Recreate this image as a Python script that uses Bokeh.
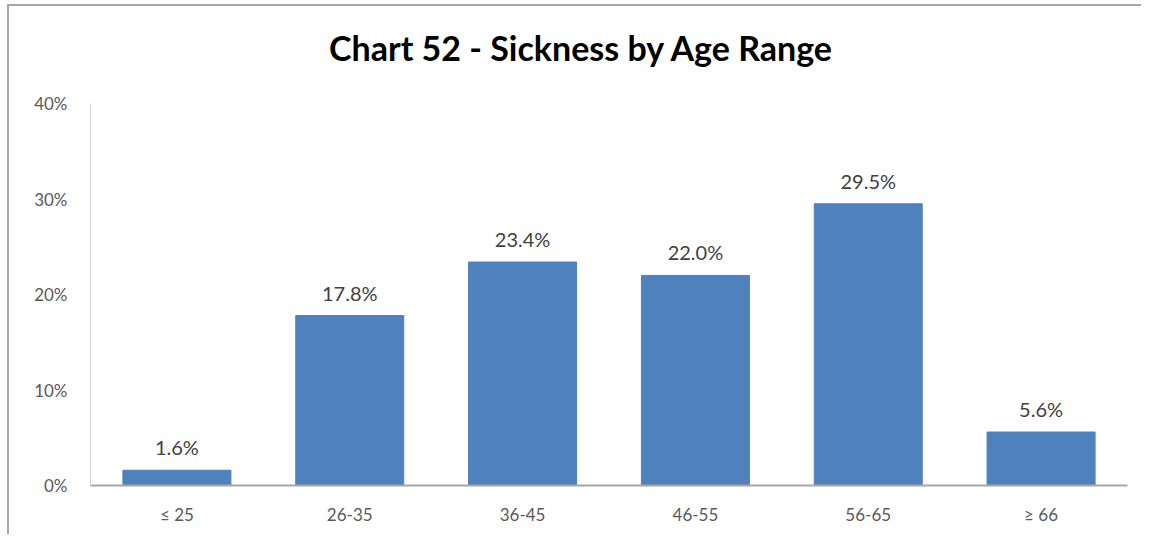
from bokeh.plotting import figure
from bokeh.models import ColumnDataSource, Label, NumeralTickFormatter, FixedTicker
from bokeh.core.properties import value
from bokeh.embed import file_html
from bokeh.resources import INLINE

categories = ["≤ 25", "26-35", "36-45", "46-55", "56-65", "≥ 66"]
values = [1.6, 17.8, 23.4, 22.0, 29.5, 5.6]
labels = ["1.6%", "17.8%", "23.4%", "22.0%", "29.5%", "5.6%"]
title_text = "Chart 52 - Sickness by Age Range"

FONT = "Lato"
src = ColumnDataSource(dict(cat=categories, val=[v / 100 for v in values], lab=labels))

p = figure(x_range=categories, y_range=(0, 0.4974), width=1134, height=530,
           output_backend="svg", toolbar_location=None,
           min_border_left=81, min_border_right=16, min_border_top=4, min_border_bottom=51)
p.styles = {"border-top": "2px solid #a6a6a6", "border-left": "2px solid #a6a6a6",
            "margin-top": "4px", "margin-left": "7px"}
p.vbar(x="cat", top="val", width=0.625, source=src, color="#4f81bd")
p.text(x="cat", y="val", text="lab", source=src, y_offset=-23, text_align="center",
       text_baseline="middle", text_font=value(FONT), text_font_size="20px", text_color="#404040")

p.xgrid.visible = False
p.ygrid.visible = False
p.outline_line_color = None
p.x_range.range_padding = 0
p.yaxis.ticker = FixedTicker(ticks=[0, 0.1, 0.2, 0.3, 0.4])
p.yaxis.bounds = (0, 0.4)
p.yaxis.formatter = NumeralTickFormatter(format="0%")
for ax in (p.xaxis[0], p.yaxis[0]):
    ax.major_tick_line_color = None
    ax.minor_tick_line_color = None
    ax.axis_line_color = "#a6a6a6"
    ax.axis_line_width = 1
    ax.major_label_text_font = FONT
    ax.major_label_text_font_size = "17px"
    ax.major_label_text_color = "#595959"
p.yaxis.axis_line_color = "#d0d0d0"
p.xaxis.axis_line_width = 2
p.xaxis.major_label_standoff = 12
p.yaxis.major_label_standoff = 17

title = Label(x=2.841, y=0.4586, text=title_text, text_align="center",
              text_baseline="middle", text_font=FONT, text_font_style="bold",
              text_font_size="34px", text_color="#000000")
p.add_layout(title)

open("out.html", "w").write(file_html(p, INLINE))
